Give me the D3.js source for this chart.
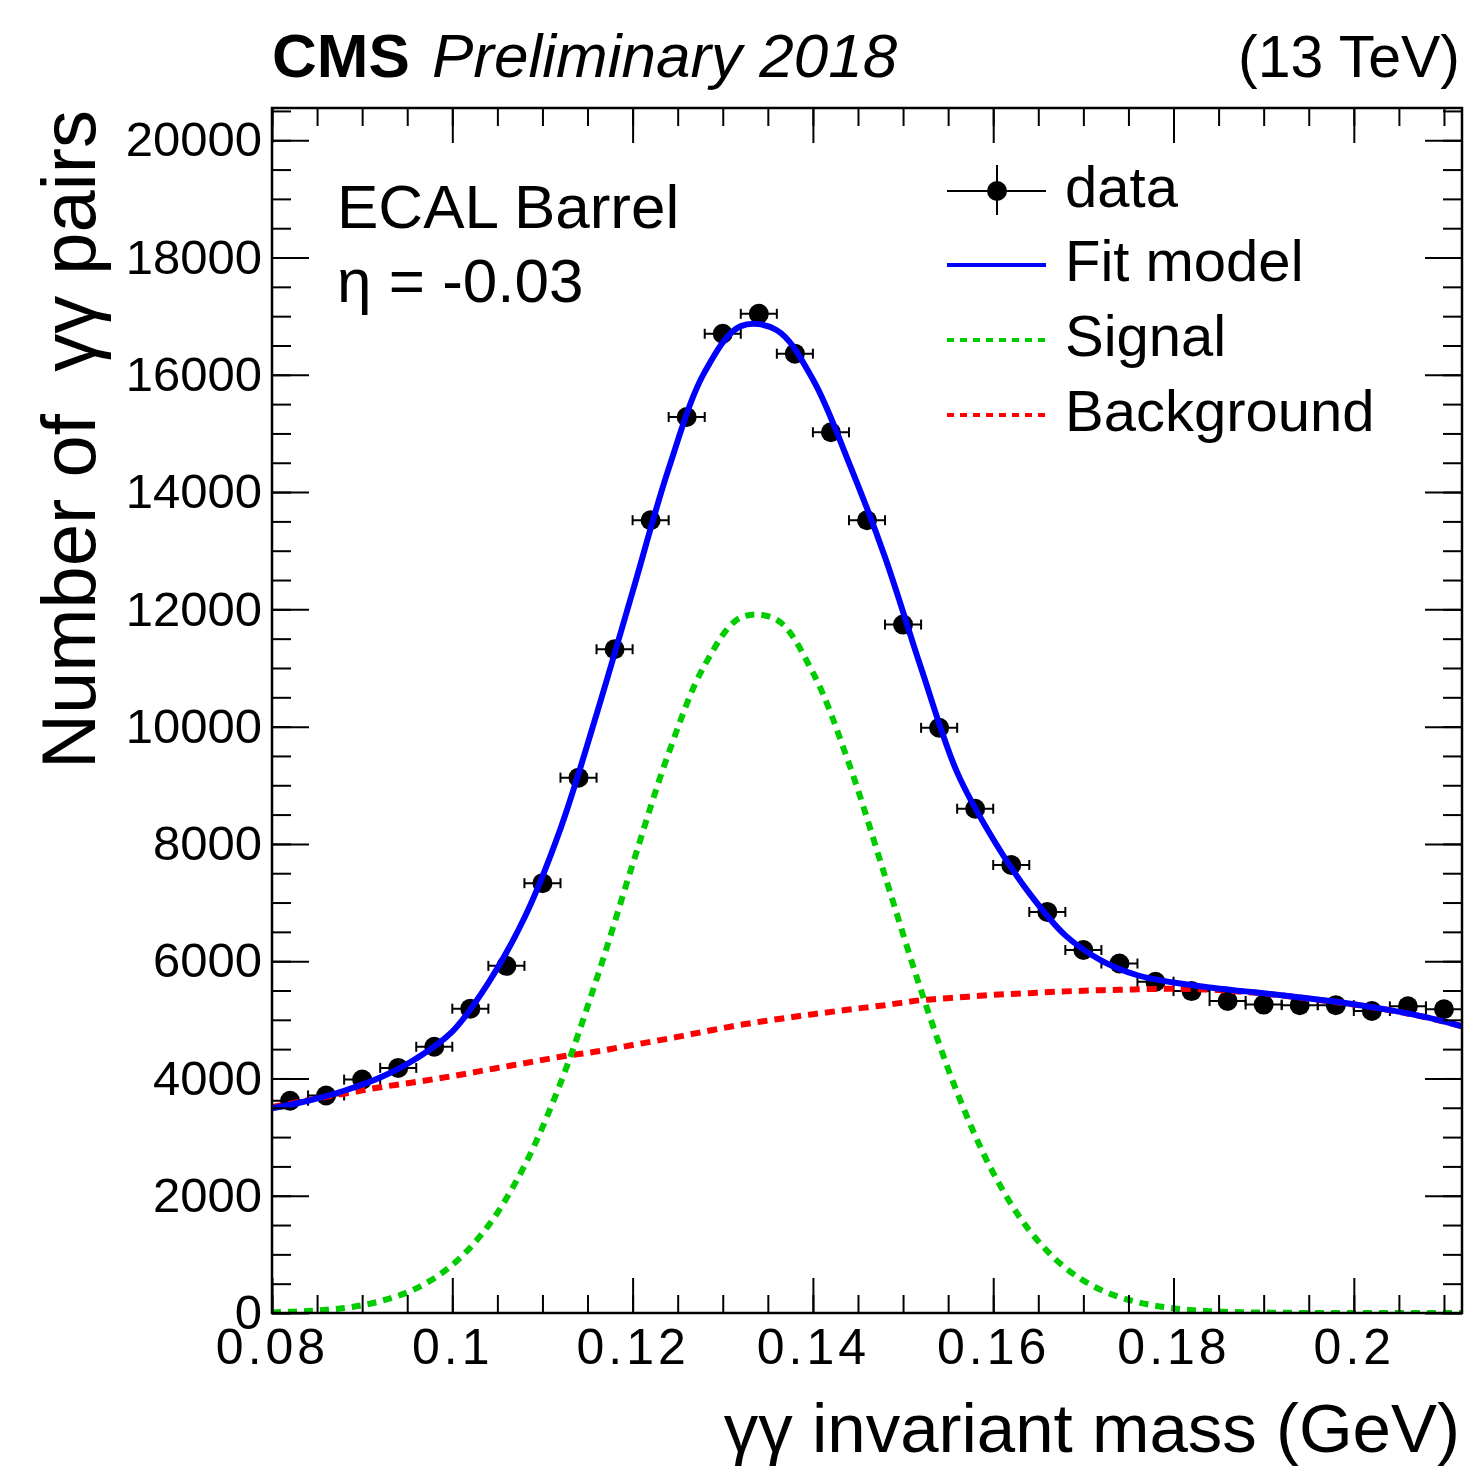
<!DOCTYPE html>
<html><head><meta charset="utf-8">
<script src="https://cdn.jsdelivr.net/npm/d3@7"></script>
<style>
body{margin:0;background:#fff;}
text{font-family:"Liberation Sans", Arial, Helvetica, sans-serif;fill:#000;}
</style></head><body>
<svg id="c" width="1466" height="1467" xmlns="http://www.w3.org/2000/svg"></svg>
<script>
// ---------------- data ----------------
const massBins = [0.082,0.086,0.090,0.094,0.098,0.102,0.106,0.110,0.114,0.118,0.122,
  0.126,0.130,0.134,0.138,0.142,0.146,0.150,0.154,0.158,0.162,0.166,0.170,0.174,0.178,
  0.182,0.186,0.190,0.194,0.198,0.202,0.206,0.210];
const binHalfWidth = 0.002;
const counts = [3620,3710,3980,4180,4540,5190,5920,7330,9130,11320,13520,
  15280,16700,17040,16360,15020,13520,11740,9980,8600,7640,6840,6190,5960,5650,
  5490,5320,5260,5250,5250,5150,5230,5180];

const curveMass = [0.080,0.084,0.088,0.092,0.096,0.100,0.104,0.108,0.112,0.116,0.120,
  0.124,0.128,0.132,0.136,0.140,0.144,0.148,0.152,0.156,0.160,0.164,0.168,0.172,0.176,
  0.180,0.184,0.188,0.192,0.196,0.200,0.204,0.208,0.212];
const fitModel = [3490,3620,3790,4015,4340,4800,5630,6740,8260,10210,12300,
  14400,16050,16830,16760,15920,14500,12890,11000,9220,8080,7160,6440,6010,5760,
  5635,5550,5485,5420,5345,5265,5165,5045,4890];
const signal = [10,35,85,200,420,820,1490,2510,3920,5690,7650,
  9550,11050,11860,11820,10920,9370,7450,5500,3760,2390,1410,770,390,185,
  80,30,12,4,1,0,0,0,0];
const background = [3510,3630,3740,3850,3940,4040,4150,4260,4370,4460,4570,
  4680,4800,4915,5010,5095,5175,5250,5335,5380,5425,5455,5485,5505,5520,
  5530,5515,5475,5415,5340,5262,5163,5043,4890];

const xMajorTicks = [0.08,0.10,0.12,0.14,0.16,0.18,0.20];
const xTickLabels = ["0.08","0.1","0.12","0.14","0.16","0.18","0.2"];
const yMajorTicks = [0,2000,4000,6000,8000,10000,12000,14000,16000,18000,20000];
const yTickLabels = ["0","2000","4000","6000","8000","10000","12000","14000","16000","18000","20000"];
const legendLabels = ["data","Fit model","Signal","Background"];

// ---------------- layout ----------------
const W = 1466, H = 1467;
const L = 272, R = 1462, T = 108, B = 1313;
const COL_FIT = "#0000ff", COL_SIG = "#00cc00", COL_BKG = "#ff0000";

const x = d3.scaleLinear().domain([0.08, 0.212]).range([L, R]);
const y = d3.scaleLinear().domain([0, 20550]).range([B, T]);

const svg = d3.select("#c");
svg.append("rect").attr("width", W).attr("height", H).attr("fill", "#fff");

svg.append("clipPath").attr("id", "clip").append("rect")
  .attr("x", L).attr("y", T).attr("width", R - L).attr("height", B - T);

const plot = svg.append("g").attr("clip-path", "url(#clip)");

// data points
const dataG = plot.append("g");
const pts = dataG.selectAll("g.pt").data(counts).join("g").attr("class", "pt");
pts.append("line")
  .attr("x1", (d, i) => x(massBins[i] - binHalfWidth)).attr("x2", (d, i) => x(massBins[i] + binHalfWidth))
  .attr("y1", d => y(d)).attr("y2", d => y(d)).attr("stroke", "#000").attr("stroke-width", 2);
pts.append("line")
  .attr("x1", (d, i) => x(massBins[i] - binHalfWidth)).attr("x2", (d, i) => x(massBins[i] - binHalfWidth))
  .attr("y1", d => y(d) - 5).attr("y2", d => y(d) + 5).attr("stroke", "#000").attr("stroke-width", 2);
pts.append("line")
  .attr("x1", (d, i) => x(massBins[i] + binHalfWidth)).attr("x2", (d, i) => x(massBins[i] + binHalfWidth))
  .attr("y1", d => y(d) - 5).attr("y2", d => y(d) + 5).attr("stroke", "#000").attr("stroke-width", 2);
pts.append("circle")
  .attr("cx", (d, i) => x(massBins[i])).attr("cy", d => y(d)).attr("r", 10).attr("fill", "#000");

const lineGen = d3.line()
  .x((d, i) => x(curveMass[i])).y(d => y(d))
  .curve(d3.curveCatmullRom.alpha(0.5));

plot.append("path").datum(background).attr("d", lineGen)
  .attr("fill", "none").attr("stroke", COL_BKG).attr("stroke-width", 6).attr("stroke-dasharray", "10,7");
plot.append("path").datum(signal).attr("d", lineGen)
  .attr("fill", "none").attr("stroke", COL_SIG).attr("stroke-width", 6).attr("stroke-dasharray", "9,7");
plot.append("path").datum(fitModel).attr("d", lineGen)
  .attr("fill", "none").attr("stroke", COL_FIT).attr("stroke-width", 6);

// ---------------- axes ----------------
const xMinor = d3.range(0, 27).map(i => 0.08 + i * 0.005);
const yMinor = d3.range(0, 42).map(i => i * 500);

function styleAxis(g) {
  g.select(".domain").remove();
  g.selectAll(".tick line").attr("stroke", "#000").attr("stroke-width", 2);
}

svg.append("g").attr("transform", `translate(${L},0)`)
  .call(d3.axisLeft(y).tickValues(yMinor).tickFormat("").tickSize(-19)).call(styleAxis);
svg.append("g").attr("transform", `translate(${L},0)`)
  .call(d3.axisLeft(y).tickValues(yMajorTicks).tickFormat((d, i) => yTickLabels[i]).tickSize(-37).tickPadding(10))
  .call(styleAxis)
  .call(g => g.selectAll("text").attr("font-size", 49).attr("font-family", "Liberation Sans, Arial, sans-serif").attr("fill", "#000"));
svg.append("g").attr("transform", `translate(${R},0)`)
  .call(d3.axisRight(y).tickValues(yMinor).tickFormat("").tickSize(-19)).call(styleAxis);
svg.append("g").attr("transform", `translate(${R},0)`)
  .call(d3.axisRight(y).tickValues(yMajorTicks).tickFormat("").tickSize(-37)).call(styleAxis);

svg.append("g").attr("transform", `translate(0,${B})`)
  .call(d3.axisBottom(x).tickValues(xMinor).tickFormat("").tickSize(-18)).call(styleAxis);
svg.append("g").attr("transform", `translate(0,${B})`)
  .call(d3.axisBottom(x).tickValues(xMajorTicks).tickFormat((d, i) => xTickLabels[i]).tickSize(-35).tickPadding(15))
  .call(styleAxis)
  .call(g => g.selectAll("text").attr("font-size", 50).attr("letter-spacing", 4)
    .attr("font-family", "Liberation Sans, Arial, sans-serif").attr("fill", "#000"));
svg.append("g").attr("transform", `translate(0,${T})`)
  .call(d3.axisTop(x).tickValues(xMinor).tickFormat("").tickSize(-18)).call(styleAxis);
svg.append("g").attr("transform", `translate(0,${T})`)
  .call(d3.axisTop(x).tickValues(xMajorTicks).tickFormat("").tickSize(-35)).call(styleAxis);

// frame
svg.append("rect").attr("x", L).attr("y", T).attr("width", R - L).attr("height", B - T)
  .attr("fill", "none").attr("stroke", "#000").attr("stroke-width", 2.5);

// axis titles
svg.append("text").attr("x", 1460).attr("y", 1452).attr("text-anchor", "end")
  .attr("font-size", 69).text("γγ invariant mass (GeV)");
svg.append("text").attr("transform", "translate(95,110) rotate(-90)").attr("text-anchor", "end")
  .attr("font-size", 76).style("white-space", "pre").text("Number of  γγ pairs");

// header
svg.append("text").attr("x", 272).attr("y", 77).attr("font-size", 62).attr("font-weight", "bold").text("CMS");
svg.append("text").attr("x", 432).attr("y", 77).attr("font-size", 62).attr("font-style", "italic").text("Preliminary 2018");
svg.append("text").attr("x", 1460).attr("y", 77).attr("font-size", 59).attr("text-anchor", "end").text("(13 TeV)");

// annotations
svg.append("text").attr("x", 337).attr("y", 228).attr("font-size", 62).text("ECAL Barrel");
svg.append("text").attr("x", 337).attr("y", 302).attr("font-size", 62).text("η = -0.03");

// legend
const legY = [191, 265, 340, 415];
const leg = svg.append("g");
legendLabels.forEach((lab, i) => {
  const yy = legY[i];
  if (i === 0) {
    leg.append("line").attr("x1", 947).attr("x2", 1046).attr("y1", yy).attr("y2", yy).attr("stroke", "#000").attr("stroke-width", 2);
    leg.append("line").attr("x1", 997).attr("x2", 997).attr("y1", yy - 26).attr("y2", yy + 24).attr("stroke", "#000").attr("stroke-width", 2);
    leg.append("circle").attr("cx", 997).attr("cy", yy).attr("r", 10).attr("fill", "#000");
  } else {
    const col = [null, COL_FIT, COL_SIG, COL_BKG][i];
    leg.append("line").attr("x1", 947).attr("x2", 1046).attr("y1", yy).attr("y2", yy)
      .attr("stroke", col).attr("stroke-width", 4).attr("stroke-dasharray", i === 1 ? null : "7,6");
  }
  leg.append("text").attr("x", 1065).attr("y", yy + 16).attr("font-size", 58).text(lab);
});
</script>
</body></html>
